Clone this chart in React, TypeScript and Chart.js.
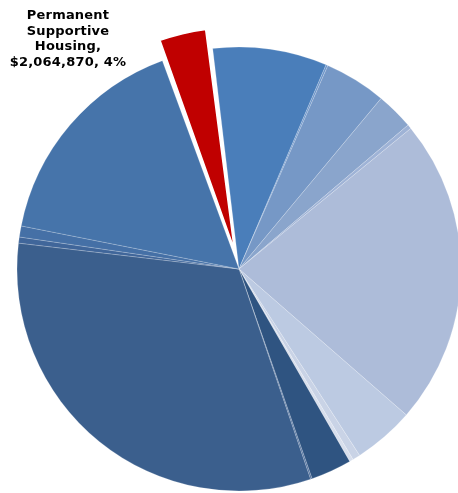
import React, { useEffect, useRef } from "react";
import { Chart, registerables } from "chart.js";

Chart.register(...registerables);

const categories: string[] = [
  "Permanent Supportive Housing",
  "Category 2",
  "Category 3",
  "Category 4",
  "Category 5",
  "Category 6",
  "Category 7",
  "Category 8",
  "Category 9",
  "Category 10",
  "Category 11",
  "Category 12",
  "Category 13",
  "Category 14",
  "Category 15",
  "Category 16",
];

const amounts: number[] = [
  2064870, 4607000, 77000, 2496000, 1510000, 170000, 12389000, 2465000,
  308000, 154000, 1649000, 62000, 17798000, 247000, 447000, 9030000,
];

const sliceColors: string[] = [
  "#c00000", "#4a7eba", "#6b94c9", "#7698c6", "#8aa5cc", "#9fb3d6",
  "#adbcd9", "#bccae2", "#c9d3e6", "#d8dfed", "#2f5481", "#4a6b9a",
  "#3b5f8d", "#40669a", "#4570a6", "#4674aa",
];

const explodedIndex = 0;
const labelLines: string[] = ["Permanent", "Supportive", "Housing,", "$2,064,870, 4%"];

export default function App() {
  const ref = useRef<HTMLCanvasElement | null>(null);

  useEffect(() => {
    document.body.style.margin = "0";
    const canvas = ref.current;
    if (!canvas) return;
    const offsets = amounts.map((_, i) => (i === explodedIndex ? 80 : 0));
    const fixRadius = {
      id: "fixRadius",
      afterDatasetUpdate(chart: any, args: any) {
        const meta = args.meta;
        meta.data.forEach((arc: any, i: number) => {
          const off = offsets[i] / 4;
          if (off > 0) {
            const fix = 1 - Math.sin(Math.min(Math.PI, arc.circumference || 0));
            arc.outerRadius = arc.outerRadius - off * fix;
          }
        });
      },
    };
    const chart = new Chart(canvas, {
      type: "pie",
      data: {
        labels: categories,
        datasets: [
          {
            data: amounts,
            backgroundColor: sliceColors,
            borderColor: sliceColors.map((_, i) =>
              i === explodedIndex ? "#ffffff" : "rgba(255,255,255,0.25)"
            ),
            borderWidth: sliceColors.map((_, i) => (i === explodedIndex ? 1.5 : 0.75)),
            offset: offsets,
            radius: 222,
            clip: false,
          } as any,
        ],
      },
      options: {
        responsive: false,
        animation: false,
        rotation: -20.2,
        layout: { padding: { left: 20, top: 45, right: 0, bottom: 0 } },
        plugins: {
          legend: { display: false },
          tooltip: { enabled: false },
          title: { display: false },
        },
      },
      plugins: [fixRadius],
    });
    return () => chart.destroy();
  }, []);

  return (
    <div style={{ position: "absolute", left: 0, top: 0, width: 458, height: 493, background: "#fff" }}>
      <canvas ref={ref} width={458} height={493} style={{ position: "absolute", left: 0, top: 0 }} />
      <div
        style={{
          position: "absolute",
          left: 0,
          top: 7,
          width: 136,
          textAlign: "center",
          fontFamily: "'DejaVu Sans', Verdana, sans-serif",
          fontWeight: "bold",
          fontSize: 13,
          letterSpacing: "0.2px",
          lineHeight: "15.6px",
          color: "#000",
        }}
      >
        {labelLines.map((l, i) => (
          <div key={i}>{l}</div>
        ))}
      </div>
    </div>
  );
}
